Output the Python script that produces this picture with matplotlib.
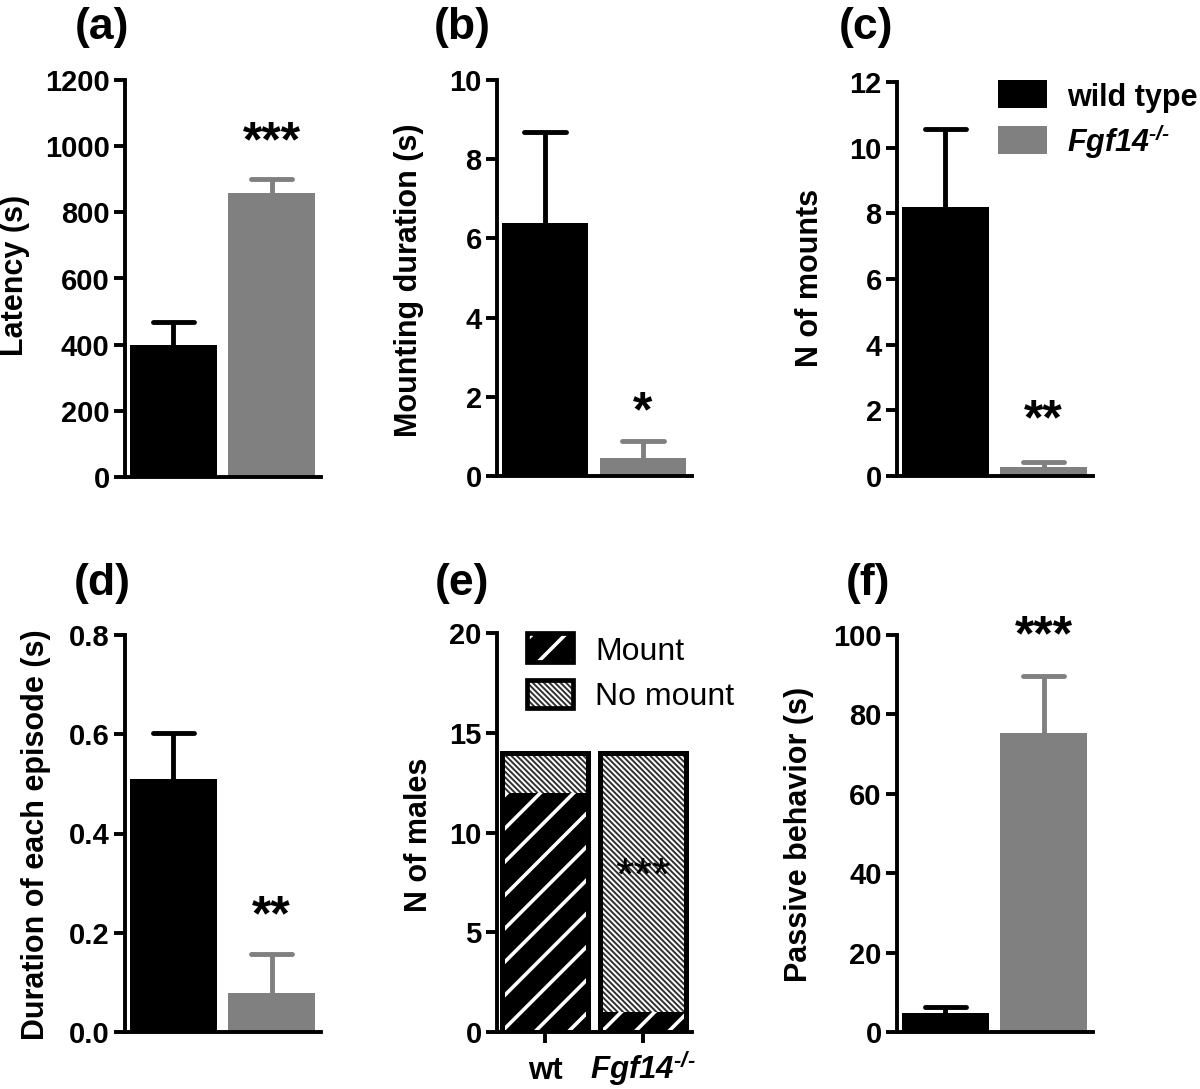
import matplotlib
matplotlib.use('Agg')
import matplotlib.pyplot as plt
from matplotlib.patches import Rectangle
from matplotlib.ticker import FormatStrFormatter

plt.rcParams['font.family'] = ['Liberation Sans', 'DejaVu Sans']
plt.rcParams['font.weight'] = 'bold'
plt.rcParams['mathtext.fontset'] = 'custom'
plt.rcParams['mathtext.rm'] = 'Liberation Sans:bold:italic'
plt.rcParams['mathtext.it'] = 'Liberation Sans:bold:italic'
plt.rcParams['mathtext.bf'] = 'Liberation Sans:bold:italic'

# ---------------- data ----------------
groups = ['wild type', r'$Fgf14^{\text{-/-}}$']
latency_mean = [398, 857]
latency_sem = [70, 43]
mounting_mean = [6.38, 0.46]
mounting_sem = [2.30, 0.42]
mounts_mean = [8.2, 0.27]
mounts_sem = [2.38, 0.15]
episode_mean = [0.51, 0.079]
episode_sem = [0.093, 0.078]
passive_mean = [4.8, 75.3]
passive_sem = [1.5, 14.4]
males_labels = ['wt', r'$Fgf14^{\text{-/-}}$']
males_mount = [12, 1]
males_no_mount = [2, 13]

# significance marks (label, y position in data units)
sig_a = ('***', 1056)
sig_b = ('*', 1.97)
sig_c = ('**', 2.15)
sig_d = ('**', 0.262)
sig_e = ('***', 8.5)
sig_f = ('***', 103.3)

colors = ['#000000', '#808080']

W, H = 1200, 1089
fig = plt.figure(figsize=(W / 100, H / 100), dpi=100)


def ax_at(left_px, zero_px, top_px, right_px):
    return fig.add_axes([left_px / W, 1 - zero_px / H,
                         (right_px - left_px) / W, (zero_px - top_px) / H])


SP_LW = 2.8
TICK_FS = 21
LABEL_FS = 22
TITLE_FS = 32
STAR_FS = 36
BAR_W = 0.88


def setup(ax, ymax, step, fmt=None):
    ax.set_xlim(-0.49, 1.5)
    ax.set_ylim(0, ymax)
    ax.set_yticks([i * step for i in range(int(round(ymax / step)) + 1)])
    if fmt:
        ax.yaxis.set_major_formatter(FormatStrFormatter(fmt))
    for s in ['top', 'right']:
        ax.spines[s].set_visible(False)
    for s in ['left', 'bottom']:
        ax.spines[s].set_linewidth(SP_LW)
    ax.tick_params(axis='y', width=SP_LW, length=8, labelsize=TICK_FS, pad=3)
    ax.tick_params(axis='x', bottom=False, labelbottom=False)
    ax.patch.set_alpha(0)


def bars(ax, means, sems, hw=0.21):
    xs = list(range(len(means)))
    ax.bar(xs, means, width=BAR_W, color=colors, linewidth=0, zorder=1)
    for x, m, e, c in zip(xs, means, sems, colors):
        ax.plot([x, x], [m, m + e], color=c, lw=3.5, solid_capstyle='butt', zorder=0.9)
        ax.plot([x - hw, x + hw], [m + e, m + e], color=c, lw=3.5,
                solid_capstyle='round', zorder=0.9)


def star(ax, x, sig, size=STAR_FS, weight='bold'):
    label, y = sig
    ax.annotate(label, (x, y), xytext=(0, -0.575 * size), textcoords='offset points',
                ha='center', va='baseline', fontsize=size, fontweight=weight,
                color='black', annotation_clip=False, zorder=5)


def ylabel(x_px, y_px, text):
    fig.text(x_px / W, 1 - y_px / H, text, rotation=90, ha='center', va='center',
             fontsize=LABEL_FS, fontweight='bold')


def title(x_px, y_px, text):
    fig.text(x_px / W, 1 - y_px / H, text, ha='center', va='center',
             fontsize=TITLE_FS, fontweight='bold')


def hatch_lw(patch, lw):
    if hasattr(patch, 'set_hatch_linewidth'):
        patch.set_hatch_linewidth(lw)


# ---------------- (a) ----------------
axa = ax_at(125, 477, 80, 321)
setup(axa, 1200, 200)
bars(axa, latency_mean, latency_sem)
star(axa, 1, sig_a)
ylabel(15, 275, 'Latency (s)')
title(102, 28, '(a)')

# ---------------- (b) ----------------
axb = ax_at(497, 476, 80, 692)
setup(axb, 10, 2)
bars(axb, mounting_mean, mounting_sem)
star(axb, 1, sig_b)
ylabel(409, 280, 'Mounting duration (s)')
title(462, 28, '(b)')

# ---------------- (c) ----------------
axc = ax_at(897, 476, 82, 1093)
setup(axc, 12, 2)
bars(axc, mounts_mean, mounts_sem)
star(axc, 1, sig_c)
ylabel(810, 278, 'N of mounts')
title(866, 28, '(c)')

# legend (c)
for (y0, y1), c, lab, base in zip([(80, 108), (126, 154)], colors, groups, [106, 152]):
    fig.add_artist(Rectangle((998 / W, 1 - y1 / H), 49 / W, (y1 - y0) / H,
                             transform=fig.transFigure, facecolor=c, edgecolor='none'))
    fig.text(1067 / W, 1 - base / H, lab, ha='left', va='baseline',
             fontsize=LABEL_FS, fontweight='bold')

# ---------------- (d) ----------------
axd = ax_at(125, 1032, 635, 321)
setup(axd, 0.8, 0.2, '%.1f')
bars(axd, episode_mean, episode_sem)
star(axd, 1, sig_d)
ylabel(36, 835, 'Duration of each episode (s)')
title(102, 584, '(d)')

# ---------------- (e) ----------------
axe = ax_at(497, 1032, 633, 692)
setup(axe, 20, 5)
xs = list(range(len(males_mount)))
tops = [m + n for m, n in zip(males_mount, males_no_mount)]

with plt.rc_context({'hatch.linewidth': 2.6}):
    pm = axe.bar(xs, males_mount, width=BAR_W, facecolor='black', edgecolor='white',
                 linewidth=0, hatch='/', zorder=1)
    for p in pm:
        hatch_lw(p, 2.6)
with plt.rc_context({'hatch.linewidth': 1.4}):
    pn = axe.bar(xs, males_no_mount, bottom=males_mount, width=BAR_W, facecolor='white',
                 edgecolor='#303030', linewidth=0, hatch='\\' * 6, zorder=1)
    for p in pn:
        hatch_lw(p, 1.4)
axe.bar(xs, tops, width=BAR_W, fill=False, edgecolor='black', linewidth=3.6, zorder=2)
axe.tick_params(axis='x', bottom=True, labelbottom=True, width=SP_LW, length=8,
                labelsize=22.5, pad=26)
axe.set_xticks(xs)
axe.set_xticklabels(males_labels)
for t in axe.get_xticklabels():
    t.set_va('baseline')
star(axe, 1, sig_e, size=34, weight='normal')
ylabel(419, 835, 'N of males')
title(462, 584, '(e)')

# legend (e)
leg_specs = [((633, 662), 'black', 'white', '/', 2.6, 'Mount', 660),
             ((680, 708), 'white', '#303030', '\\' * 6, 1.4, 'No mount', 705)]
for (y0, y1), fc, hc, ht, hl, lab, base in leg_specs:
    with plt.rc_context({'hatch.linewidth': hl}):
        r = Rectangle((527 / W, 1 - y1 / H), 46 / W, (y1 - y0) / H,
                      transform=fig.transFigure, facecolor=fc, edgecolor=hc,
                      linewidth=0, hatch=ht)
        hatch_lw(r, hl)
    fig.add_artist(r)
    fig.add_artist(Rectangle((527 / W, 1 - y1 / H), 46 / W, (y1 - y0) / H,
                             transform=fig.transFigure, fill=False, edgecolor='black',
                             linewidth=3.4))
    fig.text(595 / W, 1 - base / H, lab, ha='left', va='baseline',
             fontsize=23, fontweight='normal')

# ---------------- (f) ----------------
axf = ax_at(897, 1032, 635, 1093)
setup(axf, 100, 20)
bars(axf, passive_mean, passive_sem)
star(axf, 1, sig_f)
ylabel(799, 834, 'Passive behavior (s)')
title(868, 584, '(f)')

fig.savefig('out.png', dpi=100)
